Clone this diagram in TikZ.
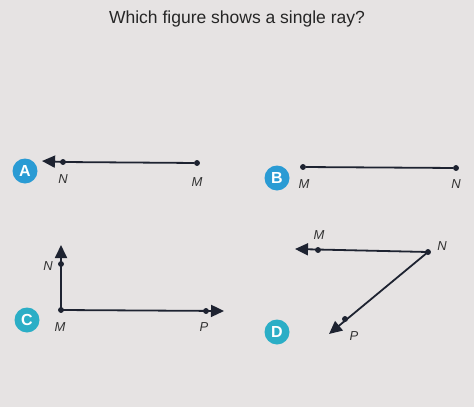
\documentclass[tikz,border=0pt]{standalone}
\usepackage{fontspec}
\setmainfont{Liberation Sans}
\usepackage{xcolor}
\usetikzlibrary{arrows.meta,positioning}

\definecolor{paper}{HTML}{E6E3E3}
\definecolor{ink}{HTML}{1E2331}
\definecolor{badgeblue}{HTML}{2A9BD4}
\definecolor{badgeteal}{HTML}{2BAEC6}

\begin{document}
\begin{tikzpicture}[x=1pt,y=-1pt,>={Triangle[length=13pt,width=12pt]}]

    % Styles
    \tikzset{
        dot/.style={circle, fill=ink, inner sep=2.1pt},
        line/.style={draw=ink, line width=1.8pt},
        pt/.style={font=\fontsize{13}{13}\selectfont\itshape, text=black!80},
        badge/.style={circle, fill=badgeblue, minimum size=25pt, inner sep=0pt,
            text=white, font=\fontsize{16}{16}\selectfont\bfseries}
    }

    % Background
    \fill[paper] (0,0) rectangle (474,407);
    \useasboundingbox (0,0) rectangle (474,407);

    % Question
    \node[text=black!85] (title) at (237,19) {\fontsize{17.5}{18}\selectfont Which figure shows a single ray?};

    % A
    \node[badge] (bA) at (25,171) {A};
    \node[dot] (aN) at (63,162) {};
    \node[dot] (aM) at (197,163) {};
    \coordinate (aTip) at (42,161);
    \draw[line,->] (aM) -- (aN.center) -- (aTip);
    \node[pt] at (63,179) {N};
    \node[pt] at (197,182) {M};

    % B
    \node[badge] (bB) at (277,178) {B};
    \node[dot] (bM) at (303,167) {};
    \node[dot] (bN) at (456,168) {};
    \draw[line] (bM) -- (bN);
    \node[pt] at (304,184) {M};
    \node[pt] at (456,184) {N};

    % C
    \node[badge, fill=badgeteal] (bC) at (27,320) {C};
    \node[dot] (cM) at (61,310) {};
    \node[dot] (cN) at (61,264) {};
    \node[dot] (cP) at (206,311) {};
    \coordinate (cUp) at (61,245);
    \coordinate (cRight) at (224,311);
    \draw[line,->] (cM.center) -- (cUp);
    \draw[line,->] (cM.center) -- (cRight);
    \node[pt] at (48,266) {N};
    \node[pt] at (60,327) {M};
    \node[pt] at (204,327) {P};

    % D
    \node[badge, fill=badgeteal] (bD) at (277,332) {D};
    \node[dot] (dN) at (428,252) {};
    \node[dot] (dM) at (318,250) {};
    \node[dot] (dP) at (345,319) {};
    \coordinate (dLeft) at (295,249);
    \coordinate (dDown) at (329,334);
    \draw[line,->] (dN.center) -- (dLeft);
    \draw[line,->] (dN.center) -- (dDown);
    \node[pt] at (319,235) {M};
    \node[pt] at (442,246) {N};
    \node[pt] at (354,336) {P};

\end{tikzpicture}
\end{document}
